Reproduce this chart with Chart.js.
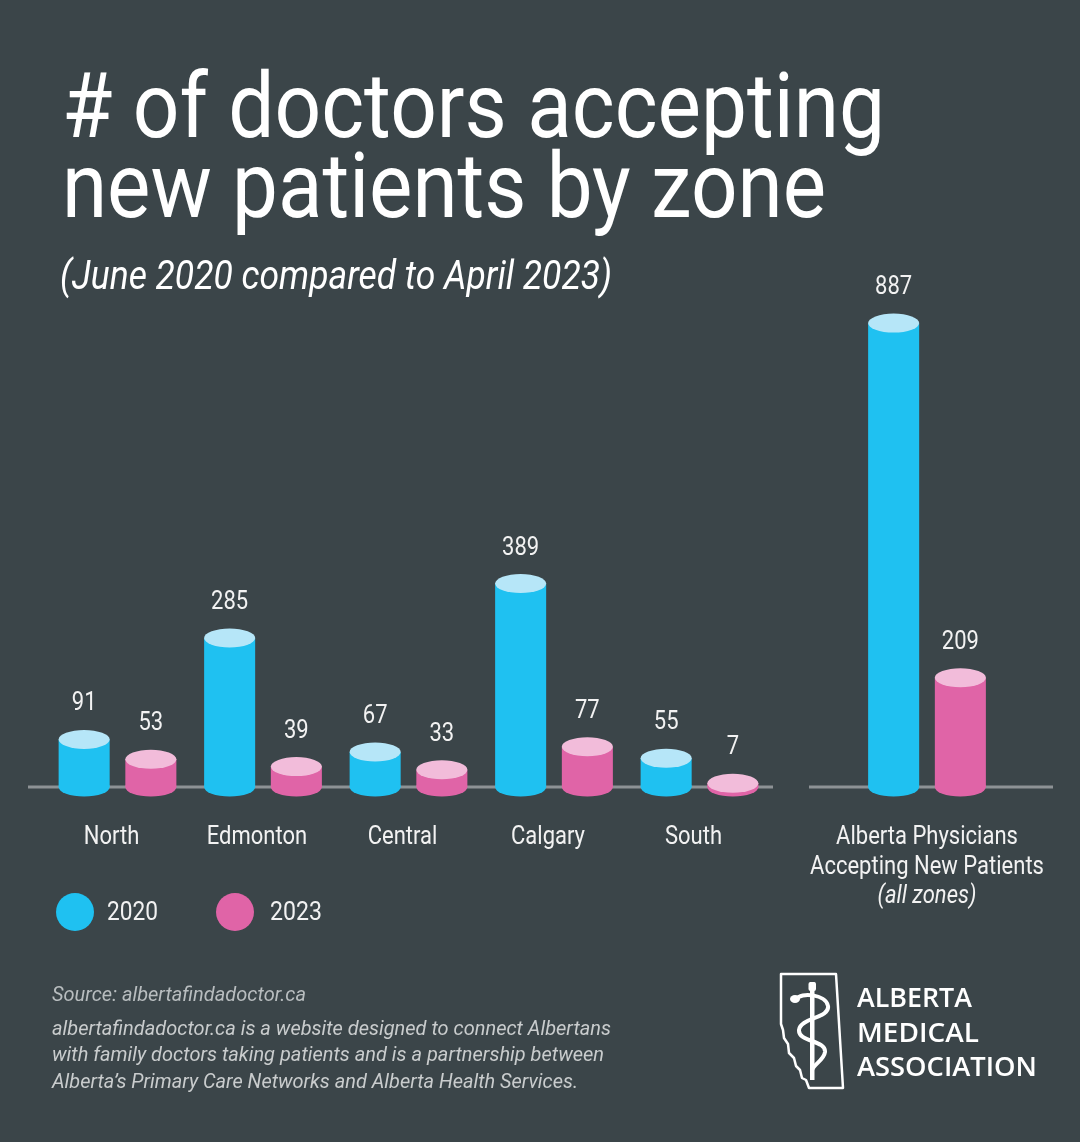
<!DOCTYPE html>
<html><head><meta charset="utf-8">
<script src="https://cdn.jsdelivr.net/npm/chart.js@4.4.0/dist/chart.umd.min.js"></script>
<style>
html,body{margin:0;padding:0;background:#3b4549;}
#page{position:relative;width:1080px;height:1142px;overflow:hidden;background:#3b4549;font-family:Roboto,sans-serif;color:#fff;}
canvas{position:absolute;left:0;top:0;}
.t{position:absolute;white-space:nowrap;transform-origin:0 0;}
.leg{position:absolute;width:38px;height:38px;border-radius:50%;}
</style></head>
<body><div id="page">
<canvas id="c1" width="1080" height="1142"></canvas>
<canvas id="c2" width="1080" height="1142"></canvas>
<div class="t fit" data-w="823" style="left:62px;top:67px;font-size:90px;line-height:80px;">#&nbsp;of doctors accepting</div>
<div class="t fit" data-w="764" style="left:62px;top:147px;font-size:90px;line-height:80px;">new patients by zone</div>
<div class="t fit" data-w="552" style="left:60px;top:256px;font-size:40px;line-height:40px;font-style:italic;">(June 2020 compared to April 2023)</div>

<div class="leg" id="leg1" style="left:56px;top:893px;"></div>
<div class="t fit" id="legt1" data-w="51" style="left:107px;top:896px;font-size:25px;line-height:32px;color:#f2f2f2;"></div>
<div class="leg" id="leg2" style="left:216px;top:893px;"></div>
<div class="t fit" id="legt2" data-w="52" style="left:270px;top:896px;font-size:25px;line-height:32px;color:#f2f2f2;"></div>

<div class="t fit" data-w="254" style="left:52px;top:981px;font-size:21px;line-height:26px;font-style:italic;color:#b8bdbf;">Source: albertafindadoctor.ca</div>
<div class="t fit" data-w="559" style="left:52px;top:1015px;font-size:21px;line-height:26px;font-style:italic;color:#c9cccd;">albertafindadoctor.ca is a website designed to connect Albertans</div>
<div class="t fit" data-w="552" style="left:52px;top:1041px;font-size:21px;line-height:26px;font-style:italic;color:#c9cccd;">with family doctors taking patients and is a partnership between</div>
<div class="t fit" data-w="526" style="left:52px;top:1068px;font-size:21px;line-height:26px;font-style:italic;color:#c9cccd;">Alberta’s Primary Care Networks and Alberta Health Services.</div>

<svg style="position:absolute;left:0;top:0;" width="1080" height="1142">
  <path d="M781,974 L836,974 L843,1088 L809,1088 L806,1080 L802,1078 L800,1070 L796,1066 L794,1058 L789,1053 L788,1044 L784,1038 L783,1030 L781,1024 Z" fill="none" stroke="#fff" stroke-width="2.5" stroke-linejoin="round"/>
  <rect x="810" y="982" width="4.5" height="98" fill="#fff"/>
  <rect x="808.5" y="982" width="7.5" height="9" rx="2" fill="#fff"/>
  <path d="M797,999 C800,992 826,994 828,1006 C830,1018 800,1018 799,1030 C798,1042 826,1040 825,1052 C824,1060 814,1064 812,1070" fill="none" stroke="#fff" stroke-width="4" stroke-linecap="round"/>
  <ellipse cx="795" cy="999" rx="5" ry="4" fill="#fff"/>
</svg>
<div class="t fit" data-w="115" style="left:857px;top:980px;font-family:'Open Sans',sans-serif;font-weight:600;font-size:27px;line-height:34.5px;">ALBERTA</div>
<div class="t fit" data-w="122" style="left:857px;top:1014.5px;font-family:'Open Sans',sans-serif;font-weight:600;font-size:27px;line-height:34.5px;">MEDICAL</div>
<div class="t fit" data-w="180" style="left:857px;top:1049px;font-family:'Open Sans',sans-serif;font-weight:600;font-size:27px;line-height:34.5px;">ASSOCIATION</div>
</div>
<script>
// ---- data ----
const zoneCategories = ["North", "Edmonton", "Central", "Calgary", "South"];
const zone2020 = [91, 285, 67, 389, 55];
const zone2023 = [53, 39, 33, 77, 7];
const totalCategoryLines = ["Alberta Physicians", "Accepting New Patients"];
const totalNote = "(all zones)";
const total2020 = [887];
const total2023 = [209];
const seriesNames = ["2020", "2023"];
const yMax = 1000;

// ---- styles ----
const BLUE = '#1fc1f1', BLUE_TOP = '#b6e6f8';
const PINK = '#e064a7', PINK_TOP = '#f2bcda';
const LABEL_FONT = '25px Roboto';
const SX = 0.88;

document.getElementById('leg1').style.background = BLUE;
document.getElementById('leg2').style.background = PINK;
document.getElementById('legt1').textContent = seriesNames[0];
document.getElementById('legt2').textContent = seriesNames[1];

function condText(ctx, text, x, y, font, sx, color) {
  ctx.save();
  ctx.font = font;
  ctx.fillStyle = color || '#f2f2f2';
  ctx.textAlign = 'center';
  ctx.textBaseline = 'alphabetic';
  ctx.translate(x, y);
  ctx.scale(sx, 1);
  ctx.fillText(text, 0, 0);
  ctx.restore();
}

const cylinderPlugin = {
  id: 'cyl',
  beforeDatasetsDraw(chart, args, opts) {
    const ctx = chart.ctx;
    const y = chart.scales.y.getPixelForValue(0);
    ctx.save();
    ctx.strokeStyle = '#8d9295';
    ctx.lineWidth = 3;
    ctx.beginPath();
    ctx.moveTo(opts.x0, y);
    ctx.lineTo(opts.x1, y);
    ctx.stroke();
    ctx.restore();
  },
  afterDatasetsDraw(chart, args, opts) {
    const ctx = chart.ctx;
    chart.data.datasets.forEach((ds, i) => {
      const meta = chart.getDatasetMeta(i);
      meta.data.forEach((bar, j) => {
        const p = bar.getProps(['x', 'y', 'base', 'width'], true);
        const rx = p.width / 2, ry = 9.5;
        ctx.save();
        ctx.fillStyle = ds.sideColor;
        ctx.beginPath();
        ctx.ellipse(p.x, p.base, rx, ry, 0, 0, Math.PI * 2);
        ctx.fill();
        ctx.fillRect(p.x - rx, p.y, p.width, p.base - p.y);
        ctx.fillStyle = ds.topColor;
        ctx.beginPath();
        ctx.ellipse(p.x, p.y, rx, ry, 0, 0, Math.PI * 2);
        ctx.fill();
        ctx.restore();
        condText(ctx, String(ds.data[j]), p.x, p.y - 29, LABEL_FONT, SX);
      });
    });
    // category labels
    const xs = chart.scales.x;
    const base = chart.scales.y.getPixelForValue(0);
    chart.data.labels.forEach((lab, k) => {
      const cx = xs.getPixelForValue(k) + (opts.labelShift || 0);
      const lines = Array.isArray(lab) ? lab : [lab];
      lines.forEach((ln, m) => condText(ctx, ln, cx, base + 57 + m * 30, LABEL_FONT, SX));
      if (opts.note) condText(ctx, opts.note, cx, base + 57 + lines.length * 30 - 1, 'italic 25px Roboto', SX);
    });
  }
};

function makeChart(id, labels, d1, d2, pad, catPct, baseline, note, labelShift) {
  return new Chart(document.getElementById(id), {
    type: 'bar',
    data: {
      labels: labels,
      datasets: [
        { label: seriesNames[0], data: d1, backgroundColor: 'rgba(0,0,0,0)', sideColor: BLUE, topColor: BLUE_TOP },
        { label: seriesNames[1], data: d2, backgroundColor: 'rgba(0,0,0,0)', sideColor: PINK, topColor: PINK_TOP }
      ]
    },
    options: {
      responsive: false,
      animation: false,
      devicePixelRatio: 1,
      layout: { padding: pad },
      scales: {
        x: { display: false },
        y: { display: false, min: 0, max: yMax }
      },
      plugins: {
        legend: { display: false },
        tooltip: { enabled: false },
        cyl: { x0: baseline[0], x1: baseline[1], note: note, labelShift: labelShift }
      },
      datasets: { bar: { categoryPercentage: catPct, barPercentage: 0.765 } }
    },
    plugins: [cylinderPlugin]
  });
}

function fitAll() {
  document.querySelectorAll('.fit').forEach(el => {
    const w = parseFloat(el.dataset.w);
    el.style.transform = 'none';
    const nat = el.getBoundingClientRect().width;
    if (nat > 0) el.style.transform = 'scaleX(' + (w / nat) + ')';
  });
}

function init() {
  fitAll();
  makeChart('c1', zoneCategories, zone2020, zone2023,
    { left: 44.75, right: 1080 - 772.25, top: 787 - 523, bottom: 1142 - 787 }, 0.917, [28, 773], null, -6);
  makeChart('c2', [totalCategoryLines], total2020, total2023,
    { left: 809, right: 1080 - 1045, top: 787 - 523, bottom: 1142 - 787 }, 0.5653, [809, 1053], totalNote, 0);
}
if (document.fonts && document.fonts.ready) document.fonts.ready.then(init); else init();
</script>
</body></html>
